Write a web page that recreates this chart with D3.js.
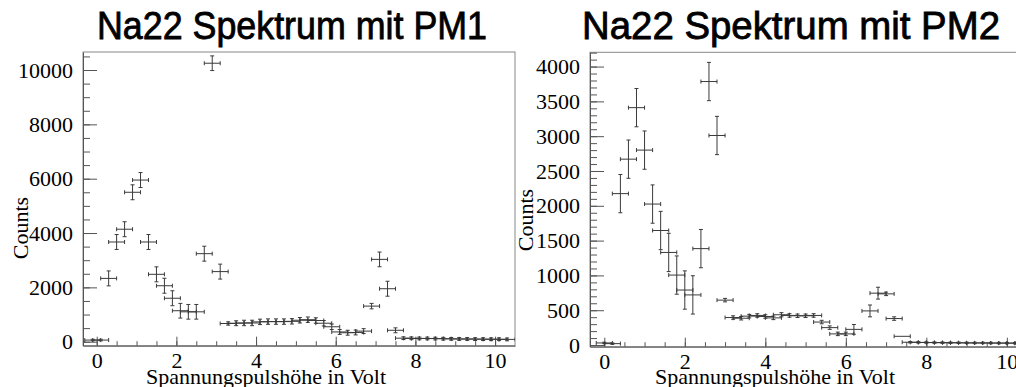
<!DOCTYPE html>
<html lang="de">
  <head>
    <meta charset="UTF-8" />
    <title>Na22 Spektrum mit PM1 / PM2</title>
    <script src="https://d3js.org/d3.v7.min.js"></script>
    <style>
      body {
        margin: 0;
        padding: 0;
        background: #fff;
        overflow: hidden;
      }
      .tick text {
        font-family: "Liberation Serif", "DejaVu Serif", serif;
        font-size: 22px;
        fill: #000;
      }
      .axis-title {
        font-family: "Liberation Serif", "DejaVu Serif", serif;
        font-size: 22px;
        fill: #000;
      }
      .plot-title {
        font-family: "Liberation Sans", Arial, sans-serif;
        font-size: 38px;
        fill: #000;
        stroke: #000;
        stroke-width: 0.8px;
      }
    </style>
  </head>
  <body>
    <svg id="chart" width="1016" height="387"></svg>

    <script>
      // PM1 spectrum: bin centres (Volt), counts, errors
      var pm1Volt = [
        -0.1, 0.1, 0.3, 0.5, 0.7, 0.9, 1.1, 1.3, 1.5, 1.7, 1.9, 2.1, 2.3, 2.5,
        2.7, 2.9, 3.1, 3.3, 3.5, 3.7, 3.9, 4.1, 4.3, 4.5, 4.7, 4.9, 5.1, 5.3,
        5.5, 5.7, 5.9, 6.1, 6.3, 6.5, 6.7, 6.9, 7.1, 7.3, 7.5, 7.7, 7.9, 8.1,
        8.3, 8.5, 8.7, 8.9, 9.1, 9.3, 9.5, 9.7, 9.9, 10.1, 10.3,
      ];
      var pm1Counts = [
        60, 60, 2330, 3670, 4140, 5500, 5950, 3670, 2480, 2060, 1600, 1140,
        1100, 1100, 3240, 10250, 2580, 670, 680, 690, 690, 730, 740, 740, 740,
        750, 790, 810, 780, 680, 550, 360, 330, 340, 390, 1310, 3030, 1950, 420,
        130, 125, 120, 120, 115, 110, 105, 100, 100, 95, 95, 90, 90, 85,
      ];
      var pm1Err = [
        30, 30, 275, 275, 275, 275, 275, 275, 275, 275, 275, 270, 270, 270, 275,
        270, 275, 60, 90, 100, 100, 100, 100, 100, 100, 100, 100, 100, 100, 100,
        100, 90, 90, 90, 90, 100, 270, 275, 90, 50, 50, 50, 50, 50, 50, 50, 50,
        50, 50, 50, 50, 50, 50,
      ];

      // PM2 spectrum
      var pm2Volt = [
        0.0, 0.2, 0.4, 0.6, 0.8, 1.0, 1.2, 1.4, 1.6, 1.8, 2.0, 2.2, 2.4, 2.6,
        2.8, 3.0, 3.2, 3.4, 3.6, 3.8, 4.0, 4.2, 4.4, 4.6, 4.8, 5.0, 5.2, 5.4,
        5.6, 5.8, 6.0, 6.2, 6.6, 6.8, 7.0, 7.2, 7.4, 7.6, 7.8, 8.0, 8.2, 8.4,
        8.6, 8.8, 9.0, 9.2, 9.4, 9.6, 9.8, 10.0, 10.2, 10.4,
      ];
      var pm2Counts = [
        30, 20, 2175, 2670, 3410, 2800, 2025, 1645, 1330, 1005, 790, 720, 1385,
        3785, 3010, 645, 395, 385, 415, 425, 410, 390, 435, 425, 420, 420, 425,
        330, 250, 160, 160, 225, 490, 745, 735, 380, 125, 40, 38, 36, 35, 34,
        33, 32, 31, 30, 30, 29, 28, 28, 27, 26,
      ];
      var pm2Err = [
        10, 10, 275, 275, 275, 275, 275, 275, 275, 275, 275, 275, 275, 275, 275,
        25, 25, 25, 25, 25, 25, 25, 30, 25, 25, 25, 25, 25, 25, 25, 25, 70, 85,
        85, 25, 25, 0, 10, 10, 10, 10, 10, 10, 10, 10, 10, 10, 10, 10, 10, 10,
        10,
      ];
      var binHalfWidth = 0.2;

      var xTickValues = [0, 2, 4, 6, 8, 10];
      var pm1YTicks = [0, 2000, 4000, 6000, 8000, 10000];
      var pm2YTicks = [0, 500, 1000, 1500, 2000, 2500, 3000, 3500, 4000];

      var svg = d3.select("#chart");

      function drawPanel(cfg) {
        var g = svg.append("g");
        var x = d3.scaleLinear().domain(cfg.xDomain).range([cfg.left, cfg.right]);
        var y = d3.scaleLinear().domain(cfg.yDomain).range([cfg.bottom, cfg.top]);

        var clipId = "clip-" + cfg.name;
        g.append("clipPath")
          .attr("id", clipId)
          .append("rect")
          .attr("x", cfg.left)
          .attr("y", cfg.top)
          .attr("width", cfg.right - cfg.left)
          .attr("height", cfg.bottom - cfg.top);

        // frame
        g.append("rect")
          .attr("x", cfg.left)
          .attr("y", cfg.top)
          .attr("width", cfg.right - cfg.left)
          .attr("height", cfg.bottom - cfg.top)
          .attr("fill", "none")
          .attr("stroke", "#888")
          .attr("stroke-width", 1);

        // y axis: major ticks point inward, labels left
        var yAxis = d3
          .axisLeft(y)
          .tickValues(cfg.yTicks)
          .tickSizeInner(-14)
          .tickSizeOuter(0)
          .tickPadding(10)
          .tickFormat(d3.format("d"));
        g.append("g")
          .attr("transform", "translate(" + cfg.left + ",0)")
          .call(yAxis)
          .call(function (a) {
            a.select(".domain").attr("stroke", "#555");
            a.selectAll(".tick line").attr("stroke", "#555");
          });

        var yMinor = d3
          .axisLeft(y)
          .tickValues(d3.range(0, cfg.yDomain[1], cfg.yMinorStep))
          .tickSize(-7)
          .tickFormat("");
        g.append("g")
          .attr("transform", "translate(" + cfg.left + ",0)")
          .call(yMinor)
          .call(function (a) {
            a.select(".domain").remove();
            a.selectAll(".tick line").attr("stroke", "#555");
          });

        // x axis
        var xAxis = d3
          .axisBottom(x)
          .tickValues(xTickValues)
          .tickSizeInner(-9)
          .tickSizeOuter(0)
          .tickPadding(7)
          .tickFormat(d3.format("d"));
        g.append("g")
          .attr("transform", "translate(0," + cfg.bottom + ")")
          .call(xAxis)
          .call(function (a) {
            a.select(".domain").attr("stroke", "#555");
            a.selectAll(".tick line").attr("stroke", "#555");
          });

        var xMinor = d3
          .axisBottom(x)
          .tickValues(d3.range(0, cfg.xDomain[1], 0.5))
          .tickSize(-4.5)
          .tickFormat("");
        g.append("g")
          .attr("transform", "translate(0," + cfg.bottom + ")")
          .call(xMinor)
          .call(function (a) {
            a.select(".domain").remove();
            a.selectAll(".tick line").attr("stroke", "#555");
          });

        // error-bar crosses
        var points = cfg.volt.map(function (v, i) {
          return { v: v, c: cfg.counts[i], e: cfg.err[i] };
        });
        var cap = 2;
        g.append("g")
          .attr("clip-path", "url(#" + clipId + ")")
          .selectAll("path")
          .data(points)
          .enter()
          .append("path")
          .attr("fill", "none")
          .attr("stroke", "#3a3a3a")
          .attr("stroke-width", 1)
          .attr("d", function (d) {
            var x0 = x(d.v - binHalfWidth),
              x1 = x(d.v + binHalfWidth),
              xc = x(d.v),
              yc = y(d.c),
              y0 = y(d.c - d.e),
              y1 = y(d.c + d.e);
            var p = "M" + x0 + "," + yc + "H" + x1;
            p += "M" + x0 + "," + (yc - cap) + "V" + (yc + cap);
            p += "M" + x1 + "," + (yc - cap) + "V" + (yc + cap);
            if (d.e > 0) {
              p += "M" + xc + "," + y0 + "V" + y1;
              p += "M" + (xc - cap) + "," + y0 + "H" + (xc + cap);
              p += "M" + (xc - cap) + "," + y1 + "H" + (xc + cap);
            }
            return p;
          });

        // titles
        g.append("text")
          .attr("class", "plot-title")
          .attr("x", cfg.titleX)
          .attr("y", 39)
          .attr("text-anchor", "middle")
          .attr("textLength", cfg.titleW)
          .attr("lengthAdjust", "spacingAndGlyphs")
          .text(cfg.title);

        g.append("text")
          .attr("class", "axis-title")
          .attr("x", cfg.xTitleX)
          .attr("y", 384)
          .attr("text-anchor", "middle")
          .text("Spannungspulshöhe in Volt");

        g.append("text")
          .attr("class", "axis-title")
          .attr("transform", "translate(" + cfg.yTitleX + "," + cfg.yTitleY + ") rotate(-90)")
          .attr("text-anchor", "middle")
          .text("Counts");
      }

      drawPanel({
        name: "pm1",
        volt: pm1Volt,
        counts: pm1Counts,
        err: pm1Err,
        left: 83,
        right: 515,
        top: 52,
        bottom: 345.7,
        xDomain: [-0.344, 10.5],
        yDomain: [-147, 10663],
        yTicks: pm1YTicks,
        yMinorStep: 500,
        title: "Na22 Spektrum mit PM1",
        titleX: 292,
        titleW: 390,
        xTitleX: 266,
        yTitleX: 28,
        yTitleY: 228,
      });

      drawPanel({
        name: "pm2",
        volt: pm2Volt,
        counts: pm2Counts,
        err: pm2Err,
        left: 590,
        right: 1027,
        top: 52.3,
        bottom: 346.7,
        xDomain: [-0.355, 10.5],
        yDomain: [-24, 4205],
        yTicks: pm2YTicks,
        yMinorStep: 100,
        title: "Na22 Spektrum mit PM2",
        titleX: 791,
        titleW: 418,
        xTitleX: 775,
        yTitleX: 533,
        yTitleY: 220,
      });
    </script>
  </body>
</html>
